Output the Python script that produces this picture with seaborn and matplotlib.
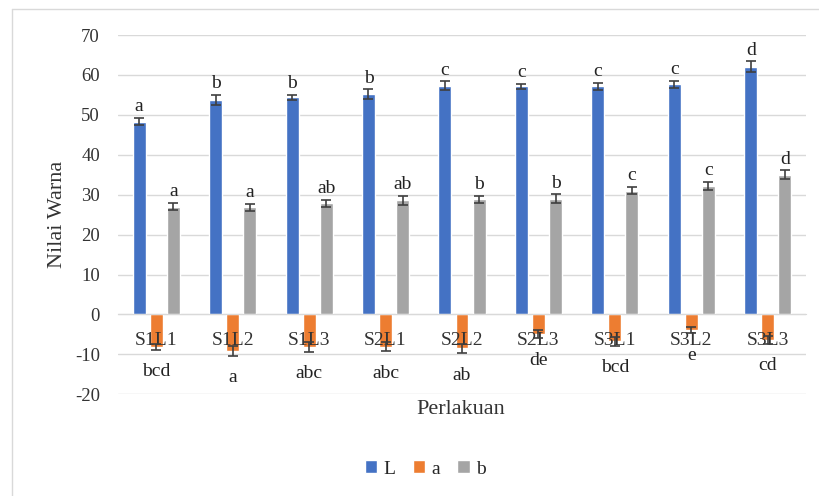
import pandas as pd
import matplotlib.pyplot as plt
import seaborn as sns
from matplotlib.lines import Line2D
from matplotlib.patches import Patch

# Data
perlakuan = ["S1L1", "S1L2", "S1L3", "S2L1", "S2L2", "S2L3", "S3L1", "S3L2", "S3L3"]

nilai_L = [48.3, 53.7, 54.4, 55.2, 57.3, 57.1, 57.1, 57.7, 62.1]
err_L = [0.9, 1.3, 0.6, 1.2, 1.1, 0.7, 0.9, 0.9, 1.3]
huruf_L = ["a", "b", "b", "b", "c", "c", "c", "c", "d"]

nilai_a = [-8.1, -9.1, -8.1, -8.1, -8.5, -5.0, -6.7, -3.9, -6.4]
err_a = [0.7, 1.2, 1.2, 1.1, 1.2, 1.0, 1.1, 0.8, 1.0]
huruf_a = ["bcd", "a", "abc", "abc", "ab", "de", "bcd", "e", "cd"]

nilai_b = [27.0, 26.8, 27.8, 28.6, 28.8, 29.0, 31.0, 32.2, 35.0]
err_b = [0.9, 0.8, 0.9, 1.1, 0.9, 1.1, 0.9, 1.1, 1.1]
huruf_b = ["a", "a", "ab", "ab", "b", "b", "c", "c", "d"]

series = ["L", "a", "b"]
colors = ["#4472C4", "#ED7D31", "#A5A5A5"]

df = pd.DataFrame({
    "Perlakuan": perlakuan * 3,
    "Seri": ["L"] * 9 + ["a"] * 9 + ["b"] * 9,
    "Nilai": nilai_L + nilai_a + nilai_b,
})

sns.set_style("white")
plt.rcParams["font.family"] = ["Liberation Serif", "DejaVu Serif"]
plt.rcParams["axes.unicode_minus"] = False

fig = plt.figure(figsize=(8.19, 4.96), dpi=100)
ax = fig.add_axes([118 / 819, 1 - 394.3 / 496, (806 - 118) / 819, (394.3 - 35) / 496])

sns.barplot(data=df, x="Perlakuan", y="Nilai", hue="Seri", hue_order=series,
            palette=colors, width=0.67, gap=0.24, legend=False, ax=ax,
            saturation=1, errorbar=None)

# category labels sit on the zero line, drawn over the bars like in Excel
ax.set_xticks(range(len(perlakuan)))
ax.set_xticklabels([])
for i, name in enumerate(perlakuan):
    ax.annotate(name, (i, 0), xytext=(0, -19), textcoords="offset points",
                ha="center", va="center", fontsize=14, color="#333333", zorder=3)

errs = [err_L, err_a, err_b]
labels = [huruf_L, huruf_a, huruf_b]
bar_groups = list(ax.containers)
for i, cont in enumerate(bar_groups):
    xs = [p.get_x() + p.get_width() / 2 for p in cont]
    vals = df[df["Seri"] == series[i]]["Nilai"].tolist()
    ax.errorbar(xs, vals, yerr=errs[i], fmt="none", ecolor="#3f3f3f",
                elinewidth=1.2, capsize=3.5, capthick=1.2, zorder=4)
    for x, v, e, t in zip(xs, vals, errs[i], labels[i]):
        if v >= 0:
            ax.annotate(t, (x, v + e), xytext=(0, 2), textcoords="offset points",
                        ha="center", va="bottom", fontsize=14, color="#222222")
        else:
            ax.text(x, v - e - 5.5, t, ha="center", va="center",
                    fontsize=14, color="#222222")

ax.set_ylim(-20, 70)
ax.set_xlim(-0.5, 8.5)
ax.set_yticks(range(-20, 71, 10))
ax.yaxis.grid(True, color="#d9d9d9", linewidth=1)
ax.set_axisbelow(True)
for s in ["top", "right", "left"]:
    ax.spines[s].set_visible(False)
ax.spines["bottom"].set_position(("data", 0))
ax.spines["bottom"].set_color("#d9d9d9")
ax.tick_params(axis="both", length=0, labelsize=13.5, colors="#333333")
ax.tick_params(axis="y", pad=13)
ax.set_xlabel("")
ax.set_ylabel("")

fig.text(57 / 819, 1 - 214 / 496, "Nilai Warna", rotation=90, ha="center", va="center",
         fontsize=16, color="#333333")
fig.text(461 / 819, 1 - 410 / 496, "Perlakuan", ha="center", va="center",
         fontsize=16, color="#333333")

handles = [Patch(facecolor=c, label=s) for c, s in zip(colors, series)]
fig.legend(handles=handles, loc="center", bbox_to_anchor=(425 / 819, 1 - 469 / 496),
           ncol=3, frameon=False, fontsize=14, handlelength=0.65, handleheight=0.65,
           handletextpad=0.3, columnspacing=0.9)

# chart area border
fig.add_artist(Line2D([12 / 819, 12 / 819], [0, 1 - 9 / 496], transform=fig.transFigure,
                      color="#d9d9d9", linewidth=1))
fig.add_artist(Line2D([12 / 819, 1], [1 - 9 / 496, 1 - 9 / 496], transform=fig.transFigure,
                      color="#d9d9d9", linewidth=1))

fig.savefig("out.png", dpi=100)
